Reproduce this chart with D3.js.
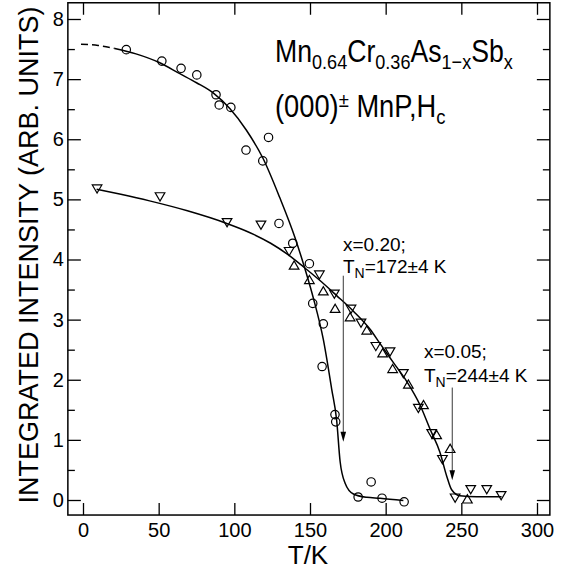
<!DOCTYPE html>
<html>
<head>
<meta charset="utf-8">
<script src="https://cdn.jsdelivr.net/npm/d3@7"></script>
<style>
body { margin: 0; background: #fff; }
svg { display: block; font-family: "Liberation Sans", Arial, Helvetica, sans-serif; }
</style>
</head>
<body>
<div id="chart"></div>
<script>
// tick values
var xTicks = [0, 50, 100, 150, 200, 250, 300];
var yTicks = [0, 1, 2, 3, 4, 5, 6, 7, 8];
var yMinorTicks = [0.5, 1.5, 2.5, 3.5, 4.5, 5.5, 6.5, 7.5];

// x = 0.20, circles  [T, intensity]
var circles020 = [
  [28.6, 7.49], [52.1, 7.30], [64.8, 7.18], [75.2, 7.07], [87.9, 6.74], [90.0, 6.57],
  [97.7, 6.53], [107.7, 5.82], [122.6, 6.03], [118.8, 5.64], [129.5, 4.60], [138.6, 4.27],
  [149.6, 3.93], [151.8, 3.27], [158.8, 2.93], [158.0, 2.22], [166.5, 1.42], [167.0, 1.30],
  [190.4, 0.30], [181.8, 0.05], [197.6, 0.03], [212.2, -0.03]
];

// x = 0.05, down triangles
var triDown005 = [
  [9.3, 5.18], [50.9, 5.05], [95.2, 4.62], [117.6, 4.58], [136.2, 4.14], [156.2, 3.75],
  [166.1, 3.43], [177.1, 3.18], [183.7, 2.95], [193.5, 2.56], [202.9, 2.47], [211.7, 2.11],
  [221.6, 1.53], [230.4, 1.11], [237.5, 0.68], [245.9, 0.04], [256.2, 0.18], [266.8, 0.18],
  [276.3, 0.08]
];

// x = 0.05, up triangles
var triUp005 = [
  [139.5, 3.90], [149.6, 3.66], [158.8, 3.47], [166.6, 3.18], [176.5, 3.04], [187.5, 2.82],
  [198.0, 2.44], [204.6, 2.18], [215.0, 1.92], [225.0, 1.58], [233.7, 1.08], [242.6, 0.85],
  [254.0, 0.01]
];

// fitted curves
var fit020Dashed = [[-1.3, 7.58], [10, 7.56], [21, 7.51]];
var fit020 = [
  [21, 7.51], [35, 7.42], [50, 7.28], [64, 7.09], [75, 6.94], [86, 6.77], [97, 6.51],
  [108, 6.15], [119, 5.68], [130, 5.03], [140, 4.37], [146, 3.90], [152.2, 3.36],
  [158.8, 2.67], [164.3, 1.85], [167.6, 1.33], [169.9, 0.64], [173.2, 0.28], [178.7, 0.10],
  [187.5, 0.045], [196.3, 0.03], [211.7, -0.01]
];
var fit005 = [
  [9, 5.17], [25, 5.085], [44, 4.975], [69, 4.81], [95, 4.60], [110, 4.45], [124, 4.27],
  [135, 4.09], [145.6, 3.88], [156.6, 3.65], [167.6, 3.40], [178.7, 3.14], [189.7, 2.84],
  [196.3, 2.60], [205, 2.29], [214, 1.97], [222.7, 1.58], [229.3, 1.18], [235.9, 0.79],
  [240.3, 0.40], [243.6, 0.17], [249.1, 0.07], [260.1, 0.055], [276.6, 0.055]
];

// Neel temperature arrows
var tnValues = [172, 244];
var arrowFrom = [3.73, 1.87];
var arrowTo = [0.97, 0.33];
var xLabels = ["x=0.20;", "x=0.05;"];
var tnLabels = ["=172\u00b14 K", "=244\u00b14 K"];

function drawChart() {
  var width = 565, height = 569;

  var x = d3.scaleLinear().domain([0, 300]).range([83, 537]);
  var y = d3.scaleLinear().domain([0, 8]).range([500, 19]);

  var left = x(-10), right = x(308.5), top = y(8.27), bottom = y(-0.25);

  var svg = d3.select("#chart").append("svg")
    .attr("width", width)
    .attr("height", height);

  // axes (ticks inward on all four sides)
  var gx = svg.append("g")
    .attr("transform", "translate(0," + bottom + ")")
    .call(d3.axisBottom(x).tickValues(xTicks).tickSize(-12).tickPadding(8));
  var gxTop = svg.append("g")
    .attr("transform", "translate(0," + top + ")")
    .call(d3.axisTop(x).tickValues(xTicks).tickSize(-12).tickFormat(""));
  var gy = svg.append("g")
    .attr("transform", "translate(" + left + ",0)")
    .call(d3.axisLeft(y).tickValues(yTicks).tickSize(-13).tickPadding(4));
  var gyMinor = svg.append("g")
    .attr("transform", "translate(" + left + ",0)")
    .call(d3.axisLeft(y).tickValues(yMinorTicks).tickSize(-7).tickFormat(""));
  var gyR = svg.append("g")
    .attr("transform", "translate(" + right + ",0)")
    .call(d3.axisRight(y).tickValues(yTicks).tickSize(-13).tickFormat(""));
  var gyRMinor = svg.append("g")
    .attr("transform", "translate(" + right + ",0)")
    .call(d3.axisRight(y).tickValues(yMinorTicks).tickSize(-7).tickFormat(""));

  [gx, gxTop, gy, gyMinor, gyR, gyRMinor].forEach(function(g) {
    g.select(".domain").remove();
    g.attr("font-family", null).attr("font-size", 20);
    g.selectAll("line").attr("stroke", "#000").attr("stroke-width", 1.3);
    g.selectAll("text").attr("fill", "#000");
  });

  svg.append("rect")
    .attr("x", left).attr("y", top)
    .attr("width", right - left).attr("height", bottom - top)
    .attr("fill", "none").attr("stroke", "#000").attr("stroke-width", 1.5);

  // axis titles
  svg.append("text")
    .attr("transform", "translate(38,255) rotate(-90)")
    .attr("text-anchor", "middle")
    .style("font-size", "27px")
    .text("INTEGRATED INTENSITY (ARB. UNITS)");

  svg.append("text")
    .attr("x", 308).attr("y", 564)
    .attr("text-anchor", "middle")
    .style("font-size", "26px")
    .text("T/K");

  // fitted curves
  var line = d3.line()
    .x(function(d) { return x(d[0]); })
    .y(function(d) { return y(d[1]); })
    .curve(d3.curveMonotoneX);

  svg.append("path").datum(fit020Dashed)
    .attr("d", line).attr("fill", "none").attr("stroke", "#000")
    .attr("stroke-width", 1.5).attr("stroke-dasharray", "7,4");
  svg.append("path").datum(fit020)
    .attr("d", line).attr("fill", "none").attr("stroke", "#000").attr("stroke-width", 1.5);
  svg.append("path").datum(fit005)
    .attr("d", line).attr("fill", "none").attr("stroke", "#000").attr("stroke-width", 1.5);

  // markers
  svg.selectAll(".circ").data(circles020)
    .enter().append("circle")
      .attr("class", "circ")
      .attr("cx", function(d) { return x(d[0]); })
      .attr("cy", function(d) { return y(d[1]); })
      .attr("r", 4.2)
      .attr("fill", "none").attr("stroke", "#000").attr("stroke-width", 1.2);

  svg.selectAll(".tdown").data(triDown005)
    .enter().append("path")
      .attr("class", "tdown")
      .attr("transform", function(d) { return "translate(" + x(d[0]) + "," + y(d[1]) + ")"; })
      .attr("d", "M-4.8,-3.6L4.8,-3.6L0,4.6Z")
      .attr("fill", "none").attr("stroke", "#000").attr("stroke-width", 1.2);

  svg.selectAll(".tup").data(triUp005)
    .enter().append("path")
      .attr("class", "tup")
      .attr("transform", function(d) { return "translate(" + x(d[0]) + "," + y(d[1]) + ")"; })
      .attr("d", "M-4.8,3.6L4.8,3.6L0,-4.6Z")
      .attr("fill", "none").attr("stroke", "#000").attr("stroke-width", 1.2);

  // arrows
  for (var i = 0; i < tnValues.length; i++) {
    var ax = x(tnValues[i]);
    svg.append("line")
      .attr("x1", ax).attr("x2", ax)
      .attr("y1", y(arrowFrom[i])).attr("y2", y(arrowTo[i]) - 8)
      .attr("stroke", "#222").attr("stroke-width", 0.9);
    svg.append("path")
      .attr("transform", "translate(" + ax + "," + y(arrowTo[i]) + ")")
      .attr("d", "M0,0L-2.8,-10L2.8,-10Z")
      .attr("fill", "#000");
  }

  // annotation labels  [left, baseline1, baseline2]
  var labelPos = [[343, 251, 273], [424, 358, 382]];
  for (var j = 0; j < xLabels.length; j++) {
    svg.append("text")
      .attr("x", labelPos[j][0]).attr("y", labelPos[j][1])
      .style("font-size", "19px")
      .text(xLabels[j]);
    var t = svg.append("text")
      .attr("x", labelPos[j][0]).attr("y", labelPos[j][2])
      .style("font-size", "19px");
    t.append("tspan").text("T");
    t.append("tspan").attr("dy", 5).style("font-size", "14px").text("N");
    t.append("tspan").attr("dy", -5).text(tnLabels[j]);
  }

  // title
  var title1 = svg.append("text")
    .attr("transform", "translate(275,62) scale(0.86,1)")
    .style("font-size", "31px");
  var parts1 = [["Mn", 0], ["0.64", 1], ["Cr", 0], ["0.36", 1], ["As", 0], ["1\u2212x", 1], ["Sb", 0], ["x", 1]];
  parts1.forEach(function(p, k) {
    var sp = title1.append("tspan").text(p[0]);
    if (p[1] == 1) sp.attr("dy", 7).style("font-size", "21px");
    else if (k > 0) sp.attr("dy", -7);
  });

  var title2 = svg.append("text")
    .attr("transform", "translate(275,117) scale(0.88,1)")
    .style("font-size", "31px");
  title2.append("tspan").text("(000)");
  title2.append("tspan").attr("dy", -10).style("font-size", "21px").text("\u00b1");
  title2.append("tspan").attr("dy", 10).text(" MnP,H");
  title2.append("tspan").attr("dy", 7).style("font-size", "21px").text("c");
}

drawChart();
</script>
</body>
</html>
